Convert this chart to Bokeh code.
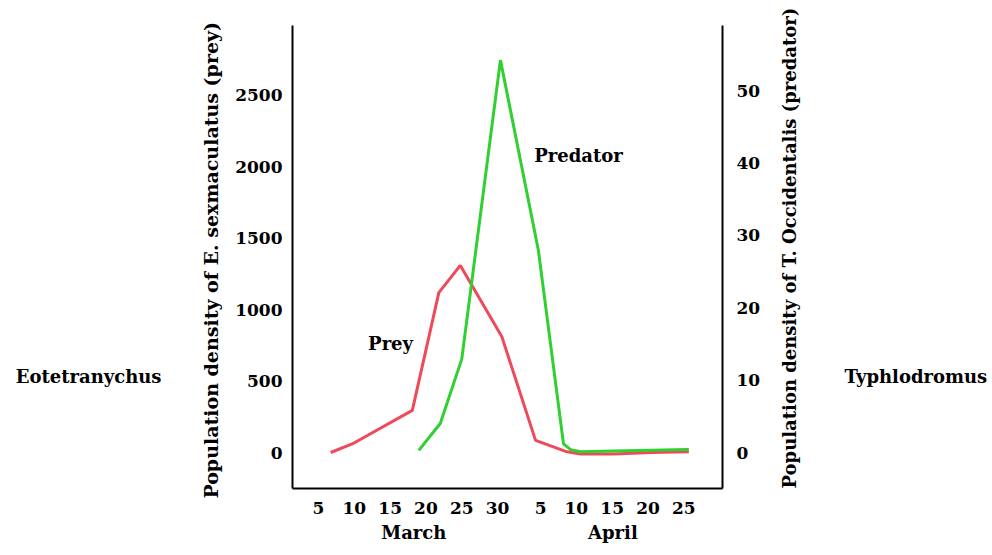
import math
from bokeh.plotting import figure
from bokeh.models import Range1d, LinearAxis, FixedTicker, Label
from bokeh.embed import file_html
from bokeh.resources import INLINE

# ---- data (x = day counted from 1 March; April d -> 31 + d) ----
prey_day = [6.7, 9.7, 18.1, 21.8, 24.8, 30.6, 35.3, 39.7, 41.6, 46.2, 51.5, 56.7]
prey_val = [0, 60, 295, 1120, 1310, 810, 85, 5, -10, -10, 0, 5]

pred_day = [19.0, 22.0, 25.0, 30.4, 35.7, 39.2, 40.2, 41.6, 46.2, 51.5, 56.7]
pred_val = [0.3, 4.0, 12.9, 54.2, 27.9, 1.2, 0.4, 0.1, 0.2, 0.3, 0.4]

x_ticks = [5, 10, 15, 20, 25, 30, 36, 41, 46, 51, 56]
x_tick_labels = ["5", "10", "15", "20", "25", "30", "5", "10", "15", "20", "25"]
month_pos = [18.3, 46.1]
month_labels = ["March", "April"]
prey_ticks = [0, 500, 1000, 1500, 2000, 2500]
pred_ticks = [0, 10, 20, 30, 40, 50]
side_pos = [532]
left_name = ["Eotetranychus"]
right_name = ["Typhlodromus"]
left_title = "Population density of E. sexmaculatus  (prey)"
right_title = "Population density of T. Occidentalis (predator)"

FONT = "DejaVu Serif"
RED = "#ee4a5a"
GREEN = "#2fd02f"

p = figure(width=992, height=553, output_backend="svg", toolbar_location=None,
           x_range=Range1d(1.37, 61.4), y_range=Range1d(-252, 2990),
           min_border_left=292, min_border_right=270, min_border_top=25,
           min_border_bottom=65)
p.outline_line_color = None
p.xgrid.visible = False
p.ygrid.visible = False
p.background_fill_color = "white"
p.border_fill_color = "white"

p.extra_y_ranges = {"pred": Range1d(-4.97, 58.98), "lab": Range1d(0, 1)}

def style_axis(ax, standoff, size="17px", line=True):
    ax.axis_line_color = "black" if line else None
    ax.axis_line_width = 2
    ax.major_tick_line_color = None
    ax.minor_tick_line_color = None
    ax.major_tick_out = 0
    ax.major_tick_in = 0
    ax.minor_tick_out = 0
    ax.minor_tick_in = 0
    ax.major_label_text_font = FONT
    ax.major_label_text_font_style = "bold"
    ax.major_label_text_font_size = size
    ax.major_label_text_color = "black"
    ax.major_label_standoff = standoff
    ax.axis_label_text_font = FONT
    ax.axis_label_text_font_style = "bold"
    ax.axis_label_text_font_size = "19px"
    ax.axis_label_text_color = "black"

# bottom axis (days)
xa = p.xaxis[0]
xa.ticker = FixedTicker(ticks=x_ticks)
xa.major_label_overrides = {t: l for t, l in zip(x_ticks, x_tick_labels)}
style_axis(xa, 13)

# month names under the day numbers
ma = LinearAxis(ticker=FixedTicker(ticks=month_pos),
                major_label_overrides={t: l for t, l in zip(month_pos, month_labels)})
style_axis(ma, 5, size="18px", line=False)
p.add_layout(ma, "below")

# left axis (prey)
ya = p.yaxis[0]
ya.ticker = FixedTicker(ticks=prey_ticks)
ya.axis_label = left_title
style_axis(ya, 10)
ya.axis_label_standoff = 10

# genus name on far left
la = LinearAxis(ticker=FixedTicker(ticks=side_pos),
                major_label_overrides={side_pos[0]: left_name[0]})
style_axis(la, 36, size="18px", line=False)
p.add_layout(la, "left")

# right axis (predator)
ra = LinearAxis(y_range_name="pred", ticker=FixedTicker(ticks=pred_ticks))
style_axis(ra, 14)
p.add_layout(ra, "right")

# right axis title, reading bottom-to-top, anchored at the frame bottom
rl = LinearAxis(y_range_name="lab", ticker=FixedTicker(ticks=[0]),
                major_label_overrides={0: right_title},
                major_label_orientation=math.pi / 2)
style_axis(rl, 26, size="18px", line=False)
p.add_layout(rl, "right")

# genus name on far right
rb = LinearAxis(ticker=FixedTicker(ticks=side_pos),
                major_label_overrides={side_pos[0]: right_name[0]})
style_axis(rb, 31, size="18px", line=False)
p.add_layout(rb, "right")

# lines
p.line(prey_day, prey_val, line_color=RED, line_width=3)
p.line(pred_day, pred_val, line_color=GREEN, line_width=3, y_range_name="pred")

def lab(x, y, t):
    p.add_layout(Label(x=x, y=y, text=t, text_font=FONT, text_font_style="bold",
                       text_font_size="18px", text_color="black",
                       text_align="center", text_baseline="middle"))

lab(15.06, 763, "Prey")
lab(41.3, 2080, "Predator")

open("out.html", "w").write(file_html(p, INLINE))
